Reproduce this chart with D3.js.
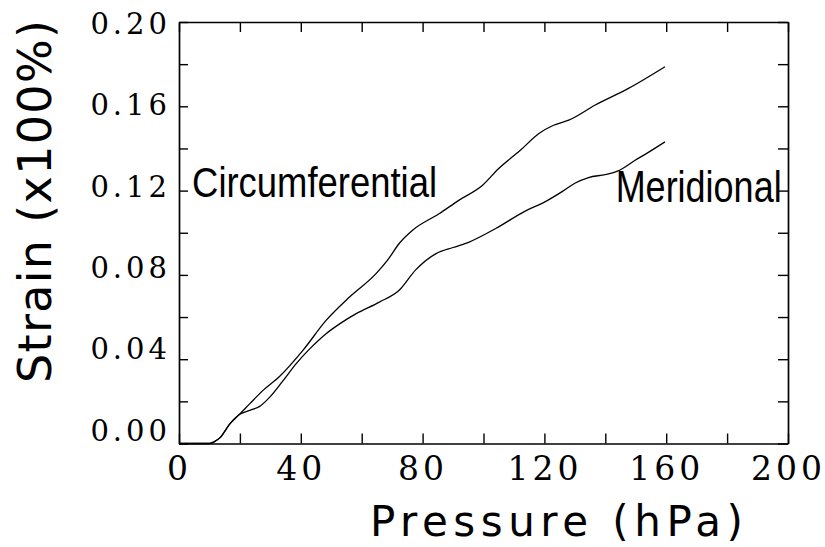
<!DOCTYPE html>
<html>
<head>
<meta charset="utf-8">
<script src="https://cdn.jsdelivr.net/npm/d3@7"></script>
<style>
  body { margin: 0; background: #fff; }
  svg { display: block; }
</style>
</head>
<body>
<div id="chart"></div>
<script>
// Strain vs pressure: [pressure (hPa), strain (x100%)]
const circumferential = [
  [0, 0], [10, 0], [11.5, 0.0008], [13.5, 0.0028], [16.7, 0.0093], [19.7, 0.0136],
  [23.2, 0.0188], [27.6, 0.0252], [33, 0.0318], [40.7, 0.0442], [48.3, 0.0584],
  [56, 0.0695], [64.7, 0.0806], [68.5, 0.087], [72.3, 0.0949], [76.7, 0.1012],
  [85.4, 0.109], [92, 0.1155], [99.6, 0.1224], [105, 0.1305], [112, 0.139],
  [118.2, 0.1471], [123, 0.151], [128, 0.1534], [136.7, 0.1606], [147.6, 0.1685],
  [159.6, 0.1788]
];
const meridional = [
  [0, 0], [10, 0], [11.5, 0.0008], [13.5, 0.0028], [16.7, 0.0093], [19.7, 0.0136],
  [23.2, 0.0157], [26.5, 0.0176], [29.8, 0.022], [34, 0.0295], [38.5, 0.0379],
  [43, 0.045], [48.3, 0.0521], [53, 0.057], [58.2, 0.0616], [65.8, 0.0671],
  [72.3, 0.0727], [77.8, 0.0825], [84.4, 0.0901], [90, 0.093], [95.3, 0.0956],
  [104, 0.102], [114, 0.1105], [120, 0.1145], [125.8, 0.1195], [130, 0.1235],
  [134.5, 0.1262], [140, 0.1276], [144, 0.1292], [149.8, 0.1344], [154, 0.138],
  [159.6, 0.1431]
];

const xTicks = [0, 20, 40, 60, 80, 100, 120, 140, 160, 180, 200];
const xTickLabels = [0, 40, 80, 120, 160, 200];
const yTicks = [0, 0.02, 0.04, 0.06, 0.08, 0.10, 0.12, 0.14, 0.16, 0.18, 0.20];
const yTickLabels = [0, 0.04, 0.08, 0.12, 0.16, 0.20];

const width = 825;
const height = 547;

const x = d3.scaleLinear().domain([0, 200]).range([179, 788]);
const y = d3.scaleLinear().domain([0, 0.2]).range([443.5, 22]);
// the printed y labels sit on a slightly tighter spacing than the ticks
const yLab = d3.scaleLinear().domain([0, 0.2]).range([431, 24]);

const svg = d3.select('#chart')
  .append('svg')
  .attr('width', width)
  .attr('height', height)
  .style('background', '#fff');

function styleAxis(g) {
  g.select('.domain').attr('stroke', '#000').attr('stroke-width', 1.7);
  g.selectAll('.tick line').attr('stroke', '#000').attr('stroke-width', 1.4);
}

// bottom axis with labels
svg.append('g')
  .attr('transform', `translate(0,${y(0)})`)
  .call(d3.axisBottom(x)
    .tickValues(xTicks)
    .tickSizeInner(-10)
    .tickSizeOuter(0)
    .tickPadding(13)
    .tickFormat(d => xTickLabels.includes(d) ? d : ''))
  .call(styleAxis)
  .call(g => g.selectAll('text')
    .attr('fill', '#000')
    .attr('font-family', 'DejaVu Serif')
    .attr('font-size', 33)
    .style('letter-spacing', '4px'));

// top axis, ticks only
svg.append('g')
  .attr('transform', `translate(0,${y(0.2)})`)
  .call(d3.axisTop(x)
    .tickValues(xTicks)
    .tickSizeInner(-10)
    .tickSizeOuter(0)
    .tickFormat(''))
  .call(styleAxis);

// left axis ticks
svg.append('g')
  .attr('transform', `translate(${x(0)},0)`)
  .call(d3.axisLeft(y)
    .tickValues(yTicks)
    .tickSizeInner(-9)
    .tickSizeOuter(0)
    .tickFormat(''))
  .call(styleAxis);

// left axis labels
svg.append('g')
  .attr('transform', `translate(${x(0)},0)`)
  .call(d3.axisLeft(yLab)
    .tickValues(yTickLabels)
    .tickSize(0)
    .tickPadding(8)
    .tickFormat(d3.format('.2f')))
  .call(g => g.select('.domain').remove())
  .call(g => g.selectAll('text')
    .attr('fill', '#000')
    .attr('font-family', 'DejaVu Serif')
    .attr('font-size', 29)
    .style('letter-spacing', '4px'));

// right axis, ticks only
svg.append('g')
  .attr('transform', `translate(${x(200)},0)`)
  .call(d3.axisRight(y)
    .tickValues(yTicks)
    .tickSizeInner(-10)
    .tickSizeOuter(0)
    .tickFormat(''))
  .call(styleAxis);

// curves
const line = d3.line()
  .x(d => x(d[0]))
  .y(d => y(d[1]))
  .curve(d3.curveMonotoneX);

[circumferential, meridional].forEach(series => {
  svg.append('path')
    .datum(series)
    .attr('fill', 'none')
    .attr('stroke', '#000')
    .attr('stroke-width', 1.3)
    .attr('d', line);
});

// curve names
svg.append('text')
  .attr('x', x(4.3))
  .attr('y', y(0.1172))
  .attr('font-family', 'Liberation Sans Narrow, Liberation Sans, sans-serif')
  .attr('font-size', 42)
  .attr('textLength', 245)
  .attr('lengthAdjust', 'spacingAndGlyphs')
  .text('Circumferential');

svg.append('text')
  .attr('x', x(143.4))
  .attr('y', y(0.1145))
  .attr('font-family', 'Liberation Sans Narrow, Liberation Sans, sans-serif')
  .attr('font-size', 44)
  .attr('textLength', 166)
  .attr('lengthAdjust', 'spacingAndGlyphs')
  .text('Meridional');

// axis titles
svg.append('text')
  .attr('x', 370)
  .attr('y', 536)
  .attr('font-family', 'DejaVu Sans')
  .attr('font-size', 42)
  .attr('textLength', 373)
  .attr('lengthAdjust', 'spacing')
  .text('Pressure (hPa)');

svg.append('text')
  .attr('transform', 'translate(51,383) rotate(-90)')
  .attr('font-family', 'DejaVu Sans')
  .attr('font-size', 46)
  .attr('textLength', 363)
  .attr('lengthAdjust', 'spacing')
  .text('Strain (x100%)');
</script>
</body>
</html>
